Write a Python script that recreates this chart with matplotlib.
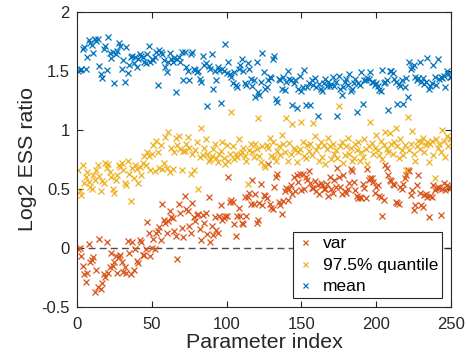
import numpy as np
import matplotlib
matplotlib.use("Agg")
import matplotlib.pyplot as plt

plt.rcParams['font.family'] = ['Liberation Sans', 'DejaVu Sans']

#%% data (parameter index 1..250)
var_ratio = [
    -0.01, 0.00, -0.07, -0.15, -0.22, -0.29, -0.21, 0.03, -0.12, -0.10,
    -0.08, -0.37, -0.19, -0.33, 0.08, -0.35, -0.30, -0.22, -0.25, 0.05,
    -0.21, -0.16, -0.04, -0.15, -0.12, -0.07, -0.21, -0.08, -0.06, -0.12,
    -0.20, -0.16, -0.21, 0.06, -0.04, -0.22, 0.05, -0.19, -0.01, -0.11,
    -0.13, 0.07, 0.05, -0.06, -0.06, -0.01, 0.22, 0.13, -0.07, 0.00,
    0.08, -0.01, 0.13, 0.14, 0.18, 0.07, 0.37, 0.24, 0.21, 0.13,
    0.23, 0.31, 0.26, 0.25, 0.14, 0.10, -0.09, 0.37, 0.30, 0.17,
    0.09, 0.44, 0.33, 0.31, 0.19, 0.13, 0.38, 0.26, 0.23, 0.28,
    0.29, 0.16, 0.07, 0.28, 0.21, 0.30, 0.12, 0.43, 0.05, 0.19,
    0.11, 0.26, 0.15, 0.13, 0.27, 0.36, 0.24, 0.25, 0.27, 0.27,
    0.60, 0.39, 0.41, 0.39, 0.20, 0.10, 0.27, 0.34, 0.27, 0.21,
    0.20, 0.43, 0.27, 0.43, 0.47, 0.37, 0.58, 0.37, 0.46, 0.21,
    0.24, 0.38, 0.54, 0.36, 0.45, 0.44, 0.42, 0.71, 0.37, 0.34,
    0.33, 0.52, 0.60, 0.63, 0.39, 0.36, 0.29, 0.40, 0.48, 0.51,
    0.41, 0.50, 0.53, 0.46, 0.60, 0.48, 0.62, 0.56, 0.63, 0.49,
    0.63, 0.50, 0.60, 0.58, 0.65, 0.55, 0.51, 0.51, 0.57, 0.48,
    0.53, 0.46, 0.55, 0.53, 0.50, 0.50, 0.54, 0.44, 0.60, 0.50,
    0.47, 0.58, 0.52, 0.68, 0.60, 0.52, 0.46, 0.62, 0.48, 0.47,
    0.50, 0.55, 0.67, 0.65, 0.56, 0.49, 0.44, 0.42, 0.43, 0.42,
    0.54, 0.51, 0.42, 0.67, 0.58, 0.59, 0.59, 0.56, 0.47, 0.52,
    0.53, 0.44, 0.43, 0.27, 0.41, 0.70, 0.68, 0.62, 0.58, 0.57,
    0.54, 0.53, 0.39, 0.38, 0.37, 0.52, 0.50, 0.54, 0.59, 0.62,
    0.66, 0.65, 0.45, 0.49, 0.32, 0.36, 0.53, 0.62, 0.47, 0.36,
    0.35, 0.45, 0.46, 0.43, 0.26, 0.44, 0.43, 0.53, 0.49, 0.51,
    0.52, 0.51, 0.28, 0.50, 0.55, 0.49, 0.53, 0.52, 0.51, 0.51,
]

q975_ratio = [
    0.66, 0.48, 0.45, 0.70, 0.55, 0.60, 0.64, 0.56, 0.52, 0.50,
    0.62, 0.58, 0.66, 0.70, 0.61, 0.48, 0.57, 0.55, 0.72, 0.68,
    0.71, 0.64, 0.60, 0.50, 0.47, 0.58, 0.62, 0.70, 0.69, 0.72,
    0.66, 0.55, 0.53, 0.74, 0.63, 0.40, 0.68, 0.59, 0.70, 0.67,
    0.55, 0.69, 0.62, 0.72, 0.78, 0.70, 0.81, 0.78, 0.66, 0.80,
    0.87, 0.65, 0.91, 0.81, 0.68, 0.87, 0.67, 0.72, 0.94, 0.68,
    0.98, 0.64, 0.85, 0.67, 0.81, 0.93, 0.87, 0.95, 0.84, 0.66,
    0.82, 0.82, 0.88, 0.94, 0.85, 0.63, 0.80, 0.66, 0.83, 0.90,
    0.50, 0.77, 1.02, 0.79, 0.85, 0.92, 0.80, 0.74, 0.75, 0.78,
    0.84, 0.88, 0.76, 0.73, 0.80, 0.82, 0.90, 0.76, 0.71, 0.87,
    0.74, 0.80, 1.15, 0.86, 0.75, 0.80, 0.77, 0.92, 0.80, 0.81,
    0.85, 0.78, 0.74, 0.54, 0.83, 0.88, 0.81, 0.77, 0.88, 0.84,
    1.10, 0.78, 0.73, 0.86, 0.70, 0.69, 0.87, 0.85, 0.93, 0.78,
    0.90, 0.77, 0.74, 0.82, 0.86, 0.79, 0.96, 0.88, 0.81, 1.10,
    0.74, 0.89, 0.80, 1.05, 0.85, 0.83, 0.73, 0.81, 0.84, 1.07,
    0.90, 0.78, 0.76, 0.87, 0.82, 0.88, 0.79, 1.06, 0.95, 0.83,
    0.86, 0.74, 0.90, 0.77, 0.87, 0.71, 0.84, 0.93, 0.86, 0.75,
    0.88, 0.80, 0.83, 0.76, 1.20, 0.86, 0.90, 0.72, 0.79, 0.86,
    0.93, 0.80, 0.85, 0.74, 0.76, 0.88, 0.83, 0.90, 0.74, 0.81,
    0.77, 0.92, 0.84, 0.71, 0.86, 1.07, 0.89, 0.80, 0.85, 0.96,
    0.83, 0.79, 0.91, 0.75, 0.87, 0.98, 0.84, 0.81, 0.97, 0.88,
    0.80, 0.90, 1.02, 0.86, 0.76, 0.92, 0.83, 0.79, 0.87, 0.66,
    1.11, 0.83, 0.88, 0.99, 0.80, 0.74, 0.86, 0.91, 0.84, 0.90,
    0.93, 0.81, 0.87, 0.90, 0.73, 0.88, 0.91, 0.79, 0.59, 0.92,
    0.85, 0.88, 0.81, 1.00, 0.91, 0.77, 0.95, 0.86, 0.93, 0.92,
]

mean_ratio = [
    1.50, 1.51, 1.52, 1.69, 1.70, 1.52, 1.62, 1.76, 1.74, 1.72,
    1.65, 1.77, 1.75, 1.77, 1.54, 1.47, 1.44, 1.69, 1.71, 1.51,
    1.79, 1.65, 1.61, 1.66, 1.40, 1.64, 1.67, 1.74, 1.71, 1.52,
    1.59, 1.41, 1.70, 1.48, 1.55, 1.62, 1.63, 1.57, 1.62, 1.53,
    1.60, 1.64, 1.63, 1.62, 1.58, 1.57, 1.64, 1.71, 1.58, 1.60,
    1.59, 1.62, 1.66, 1.38, 1.68, 1.66, 1.64, 1.59, 1.53, 1.49,
    1.58, 1.65, 1.60, 1.58, 1.61, 1.32, 1.60, 1.62, 1.58, 1.66,
    1.42, 1.66, 1.53, 1.50, 1.42, 1.64, 1.66, 1.52, 1.51, 1.49,
    1.50, 1.43, 1.41, 1.63, 1.55, 1.57, 1.20, 1.54, 1.52, 1.64,
    1.35, 1.50, 1.42, 1.53, 1.51, 1.23, 1.52, 1.50, 1.73, 1.48,
    1.58, 1.47, 1.45, 1.40, 1.49, 1.38, 1.36, 1.52, 1.55, 1.60,
    1.50, 1.40, 1.38, 1.57, 1.52, 1.43, 1.37, 1.42, 1.28, 1.58,
    1.32, 1.30, 1.41, 1.65, 1.49, 1.35, 1.36, 1.42, 1.45, 1.44,
    1.60, 1.63, 1.26, 1.24, 1.43, 1.42, 1.35, 1.45, 1.34, 1.41,
    1.50, 1.43, 1.42, 1.21, 1.40, 1.42, 1.19, 1.35, 1.46, 1.33,
    1.36, 1.51, 1.21, 1.36, 1.40, 1.21, 1.42, 1.38, 1.44, 1.36,
    1.12, 1.39, 1.35, 1.33, 1.40, 1.43, 1.37, 1.41, 1.37, 1.39,
    1.45, 1.37, 1.41, 1.12, 1.46, 1.35, 1.30, 1.36, 1.41, 1.43,
    1.38, 1.47, 1.33, 1.35, 1.40, 1.43, 1.15, 1.40, 1.38, 1.49,
    1.22, 1.42, 1.42, 1.44, 1.43, 1.49, 1.41, 1.41, 1.38, 1.40,
    1.37, 1.34, 1.33, 1.51, 1.40, 1.41, 1.42, 1.17, 1.50, 1.50,
    1.48, 1.43, 1.41, 1.22, 1.39, 1.37, 1.42, 1.22, 1.36, 1.44,
    1.28, 1.58, 1.52, 1.53, 1.55, 1.45, 1.42, 1.44, 1.58, 1.41,
    1.44, 1.39, 1.41, 1.61, 1.35, 1.37, 1.40, 1.55, 1.45, 1.38,
    1.60, 1.43, 1.45, 1.44, 1.46, 1.36, 1.50, 1.47, 1.45, 1.45,
]

labels = ['var', '97.5% quantile', 'mean']
colors = ['#D95319', '#EDB120', '#0072BD']

x_ticks = [0, 50, 100, 150, 200, 250]
y_ticks = [-0.5, 0, 0.5, 1, 1.5, 2]

idx = np.arange(1, len(var_ratio) + 1)

#%% figure
fig = plt.figure(figsize=(4.66, 3.62), dpi=100)
ax = fig.add_axes([0.165, 0.152, 0.803, 0.815])

for vals, lab, col in zip([var_ratio, q975_ratio, mean_ratio], labels, colors):
    ax.plot(idx, vals, linestyle='none', marker='x', markersize=4.5,
            markeredgewidth=0.9, color=col, label=lab)

ax.axhline(0, color='0.3', linewidth=1.0, linestyle=(0, (5, 3)), zorder=0)

ax.set_xlim(0, 250)
ax.set_ylim(-0.5, 2)
ax.set_xticks(x_ticks)
ax.set_yticks(y_ticks)
ax.set_yticklabels(['-0.5', '0', '0.5', '1', '1.5', '2'])
ax.tick_params(direction='in', top=True, right=True, length=4, width=0.8,
               labelsize=12, colors='0.15')
ax.tick_params(axis='x', pad=7)
ax.tick_params(axis='y', pad=5)
for s in ax.spines.values():
    s.set_color('0.15')
    s.set_linewidth(0.8)

ax.set_xlabel('Parameter index', fontsize=15.4, color='0.15', labelpad=1)
ax.set_ylabel('Log2 ESS ratio', fontsize=15.4, color='0.15', labelpad=3)

leg = ax.legend(loc='lower right', fontsize=12.5, frameon=True, fancybox=False,
                edgecolor='0.15', framealpha=1, handlelength=0.9,
                handletextpad=0.55, borderpad=0.25, labelspacing=0.35,
                borderaxespad=0.5, markerscale=0.8)
leg.get_frame().set_linewidth(0.8)

fig.savefig('out.png', dpi=100)
